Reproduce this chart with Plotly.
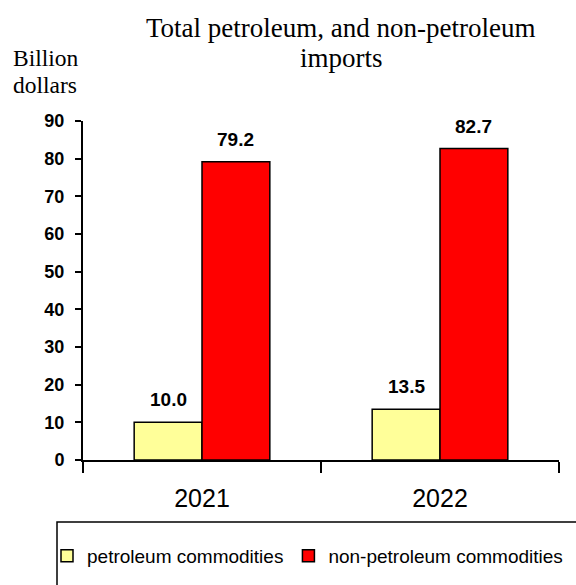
import plotly.graph_objects as go

years = ["2021", "2022"]
petroleum = [10.0, 13.5]
non_petroleum = [79.2, 82.7]
series_names = ["petroleum commodities", "non-petroleum commodities"]
y_ticks = [0, 10, 20, 30, 40, 50, 60, 70, 80, 90]

# plot area in pixels (left, right, top, bottom)
PL, PR, PT, PB = 83, 559, 121, 460
W, H = 576, 585
BARGAP = 0.43


def px_x(px):
    return (px - PL) / (PR - PL)


def px_y(py):
    return (PB - py) / (PB - PT)


fig = go.Figure()
fig.add_trace(go.Bar(
    x=years, y=petroleum, name=series_names[0],
    marker=dict(color="#FFFF99", line=dict(color="black", width=1.5)),
))
fig.add_trace(go.Bar(
    x=years, y=non_petroleum, name=series_names[1],
    marker=dict(color="#FF0000", line=dict(color="black", width=1.5)),
))

# value labels above each bar (bar centres sit a quarter of the group width off-centre)
off = (1 - BARGAP) / 4
for shift, vals in ((-off, petroleum), (off, non_petroleum)):
    for i, v in enumerate(vals):
        fig.add_annotation(
            x=i + shift, y=v, xref="x", yref="y", text=f"{v:.1f}",
            showarrow=False, yanchor="bottom", yshift=10,
            font=dict(family="Arial", size=19, color="black", weight="bold"),
        )

# chart title, one annotation per line
serif = dict(family="Liberation Serif", color="black")
for text, py in (("Total petroleum, and non-petroleum", 28), ("imports", 58)):
    fig.add_annotation(
        x=px_x(341), y=px_y(py), xref="paper", yref="paper",
        xanchor="center", yanchor="middle", text=text, showarrow=False,
        font=dict(size=27, **serif),
    )

# unit label
for text, py in (("Billion", 58), ("dollars", 85)):
    fig.add_annotation(
        x=px_x(11), y=px_y(py), xref="paper", yref="paper",
        xanchor="left", yanchor="middle", text=text, showarrow=False,
        font=dict(size=23.5, **serif),
    )

# legend frame
fig.add_shape(type="rect", xref="paper", yref="paper",
              x0=px_x(57), x1=px_x(W + 20), y0=px_y(522), y1=px_y(H + 20),
              line=dict(color="black", width=1.5), fillcolor="white", layer="below")

fig.update_layout(
    width=W, height=H,
    margin=dict(l=PL, r=W - PR, t=PT, b=H - PB, autoexpand=False),
    paper_bgcolor="white", plot_bgcolor="white",
    barmode="group", bargap=BARGAP, bargroupgap=0,
    showlegend=True,
    legend=dict(orientation="h", x=px_x(47), y=px_y(556),
                xanchor="left", yanchor="middle",
                font=dict(family="Arial", size=19, color="black"),
                bgcolor="rgba(0,0,0,0)", traceorder="normal",
                itemwidth=30),
    xaxis=dict(type="category", showline=True, linecolor="black", linewidth=2,
               ticks="outside", tickson="boundaries", ticklen=11, tickwidth=1.5,
               tickcolor="black", showgrid=False, ticklabelstandoff=15,
               tickfont=dict(family="Arial", size=25, color="black")),
    yaxis=dict(range=[0, 90], tickvals=y_ticks, showline=True, linecolor="black",
               linewidth=2, ticks="outside", ticklen=6, tickwidth=1.5,
               tickcolor="black", showgrid=False, zeroline=False,
               ticklabelstandoff=7,
               tickfont=dict(family="Arial", size=18, color="black", weight="bold")),
)

fig.write_html("out.html")
